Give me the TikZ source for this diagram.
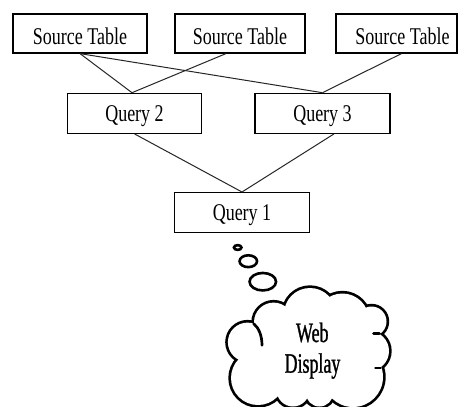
\documentclass[tikz,border=0pt]{standalone}
\usepackage{fontspec}
\setmainfont[FakeStretch=0.75]{Liberation Serif}
\newfontfamily\cloudfont[FakeStretch=0.64,FakeBold=1]{Liberation Serif}
\tikzset{
  box/.style={draw, line width=1.2pt, inner sep=0pt, font=\fontsize{24}{26}\selectfont},
  srcbox/.style={box, minimum height=39pt, text height=25pt, text depth=4pt},
  qbox/.style={box, minimum height=40pt, text height=20pt, text depth=4pt},
  link/.style={line width=1pt, black!85},
  bubble/.style={line width=2.6pt},
  puffline/.style={line width=5.4pt},
  cloudstroke/.style={line width=2.7pt, line cap=round},
  cloudtext/.style={font=\cloudfont\fontsize{28}{30}\selectfont, inner sep=0pt, anchor=base},
}
\begin{document}
\begin{tikzpicture}[x=1pt,y=-1pt]
\useasboundingbox (0,0) rectangle (458,407);
\fill[white] (0,0) rectangle (458,407);

% boxes
\node[srcbox, minimum width=134pt] (st1) at (80,33.5) {Source Table};
\node[srcbox, minimum width=130pt] (st2) at (240,33.5) {Source Table};
\node[srcbox, minimum width=121pt] (st3) at (396.5,33.5) {\hspace*{12pt}Source Table};
\node[qbox, minimum width=134pt] (q2) at (134.5,113.3) {Query 2};
\node[qbox, minimum width=135pt] (q3) at (322.5,113.3) {Query 3};
\node[qbox, minimum width=135pt] (q1) at (242,212.6) {Query 1};

% connectors
\draw[link] (st1.south) -- ([xshift=-2.5pt]q2.north);
\draw[link] (st1.south) -- (q3.north);
\draw[link] ([xshift=-14pt]st2.south) -- ([xshift=-2.5pt]q2.north);
\draw[link] ([xshift=5pt]st3.south) -- (q3.north);
\draw[link] (q2.south) -- (q1.north);
\draw[link] ([xshift=11.5pt]q3.south) -- (q1.north);

% thought bubbles
\draw[bubble] (237.7,247.5) ellipse[x radius=3.75, y radius=2.4];
\draw[bubble] (248.3,261.2) ellipse[x radius=8.75, y radius=5.9];
\draw[bubble] (262.8,281.7) ellipse[x radius=13.25, y radius=8.75];

% cloud
\begin{scope}
\clip (0,0) rectangle (458,407);
\foreach \cx/\cy/\r in {273.6/322.2/19.6, 310/314/26, 342.4/320/26.5, 371.5/321.5/15,
    369/351/20, 353/377/30, 319.5/392.8/13.7, 293/390.2/16.3, 258/378/27, 247.5/342.2/19.6}
  \draw[puffline] (\cx,\cy) circle[radius=\r];
\foreach \cx/\cy/\r in {273.6/322.2/19.6, 310/314/26, 342.4/320/26.5, 371.5/321.5/15,
    369/351/20, 353/377/30, 319.5/392.8/13.7, 293/390.2/16.3, 258/378/27, 247.5/342.2/19.6}
  \fill[white] (\cx,\cy) circle[radius=\r];
\fill[white] (310,350) ellipse[x radius=62, y radius=40];
\draw[cloudstroke] (253.7,323.7) .. controls (259,328) and (262,336) .. (262,345.3);
\draw[cloudstroke] (373.5,333.7) -- (379.5,333.7);
\draw[cloudstroke] (375.5,368) -- (380.5,368);
\end{scope}

\node[cloudtext] (web) at (312.3,342) {Web};
\node[cloudtext] (disp) at (312.5,372.7) {Display};
\end{tikzpicture}
\end{document}
